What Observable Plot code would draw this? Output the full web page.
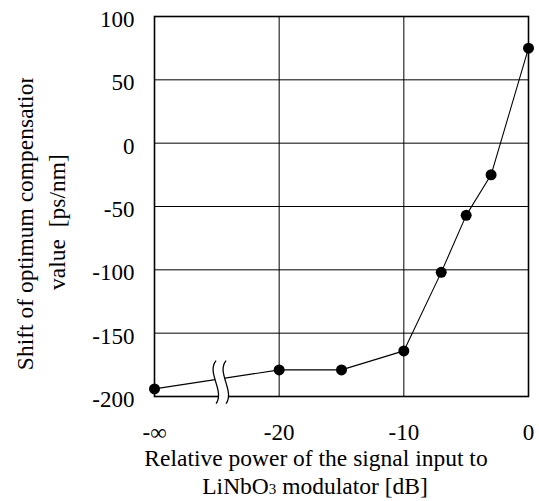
<!DOCTYPE html>
<html><head><meta charset="utf-8">
<script src="https://cdn.jsdelivr.net/npm/d3@7"></script>
<script src="https://cdn.jsdelivr.net/npm/@observablehq/plot@0.6"></script>
<style>
body{margin:0;background:#fff}
svg text{font-family:"Liberation Serif","Times New Roman",serif !important;}
</style>
</head><body><div id="chart"></div>
<script>
// -30 stands in for "-∞"
const xValues = [-30, -20, -15, -10, -7, -5, -3, 0];
const yValues = [-194, -179, -179, -164, -102, -57, -25, 75];
const xTicks = [-30, -20, -10, 0];
const xTickLabels = ["-∞", "-20", "-10", "0"];
const yTicks = [-200, -150, -100, -50, 0, 50, 100];
const yTickLabels = ["-200", "-150", "-100", "-50", "0", "50", "100"];
const yGrid = [-150, -100, -50, 0, 50];
const xGrid = [-20, -10];
const yTitle = ["Shift of optimum compensation", "value  [ps/nm]"];
const xTitle1 = "Relative power of the signal input to";
const xTitle2 = ["LiNbO", "3", " modulator [dB]"];
const breakX = -24.7;
const breakY = -189.5;

const data = xValues.map((x, i) => ({x, y: yValues[i]}));
const FONT = "Liberation Serif, Times New Roman, serif";

function breakMark(index, scales, values, dims) {
  const cx = scales.x(breakX), cy = scales.y(breakY);
  const curve = (ox) => `M${cx+ox+1},${cy-22} C${cx+ox-9},${cy-10} ${cx+ox+10},${cy+8} ${cx+ox+1},${cy+21}`;
  const curveRev = (ox) => `L${cx+ox+1},${cy+21} C${cx+ox+10},${cy+8} ${cx+ox-9},${cy-10} ${cx+ox+1},${cy-22}`;
  const g = d3.create("svg:g");
  g.append("path").attr("d", curve(-5) + curveRev(5) + "Z").attr("fill", "white").attr("stroke", "none");
  g.append("path").attr("d", curve(-5)).attr("fill", "none").attr("stroke", "black").attr("stroke-width", 1.3);
  g.append("path").attr("d", curve(5)).attr("fill", "none").attr("stroke", "black").attr("stroke-width", 1.3);
  return g.node();
}

const svg = Plot.plot({
  width: 539,
  height: 501,
  marginLeft: 154,
  marginRight: 11,
  marginTop: 16,
  marginBottom: 105,
  style: {fontFamily: FONT, fontSize: "23px", background: "white", color: "black", overflow: "visible"},
  x: {domain: [-30, 0]},
  y: {domain: [-200, 100]},
  marks: [
    Plot.ruleY(yGrid, {stroke: "black", strokeWidth: 1}),
    Plot.ruleX(xGrid, {stroke: "black", strokeWidth: 1}),
    Plot.frame({stroke: "black", strokeWidth: 1.6}),
    Plot.axisY({ticks: yTicks, tickFormat: d => yTickLabels[yTicks.indexOf(d)], tickSize: 0, tickPadding: 20, fontSize: 23, dy: 3, label: null}),
    Plot.axisX({ticks: xTicks, tickFormat: d => xTickLabels[xTicks.indexOf(d)], tickSize: 0, tickPadding: 27, fontSize: 23, label: null}),
    Plot.line(data, {x: "x", y: "y", stroke: "black", strokeWidth: 1.1}),
    Plot.dot(data, {x: "x", y: "y", r: 5.5, fill: "black", stroke: "none"}),
    breakMark
  ]
});

const s = d3.select(svg);
s.selectAll("text").attr("font-family", FONT);
s.append("clipPath").attr("id", "ylabclip").append("rect").attr("x", 0).attr("y", 78).attr("width", 150).attr("height", 420);
const yl = s.append("g").attr("clip-path", "url(#ylabclip)").attr("font-family", FONT).attr("font-size", 23.5).attr("fill", "black");
yl.append("text").attr("transform", "translate(33,221) rotate(-90)").attr("text-anchor", "middle").text(yTitle[0]);
yl.append("text").attr("transform", "translate(65,222) rotate(-90)").attr("text-anchor", "middle").style("white-space", "pre").text(yTitle[1]);

const xl = s.append("g").attr("font-family", FONT).attr("font-size", 23.5).attr("fill", "black").attr("text-anchor", "middle");
xl.append("text").attr("x", 316).attr("y", 466).text(xTitle1);
const t2 = xl.append("text").attr("x", 315).attr("y", 494);
t2.append("tspan").text(xTitle2[0]);
t2.append("tspan").attr("font-size", 15).text(xTitle2[1]);
t2.append("tspan").text(xTitle2[2]);

document.getElementById("chart").appendChild(svg);
</script>
</body></html>
